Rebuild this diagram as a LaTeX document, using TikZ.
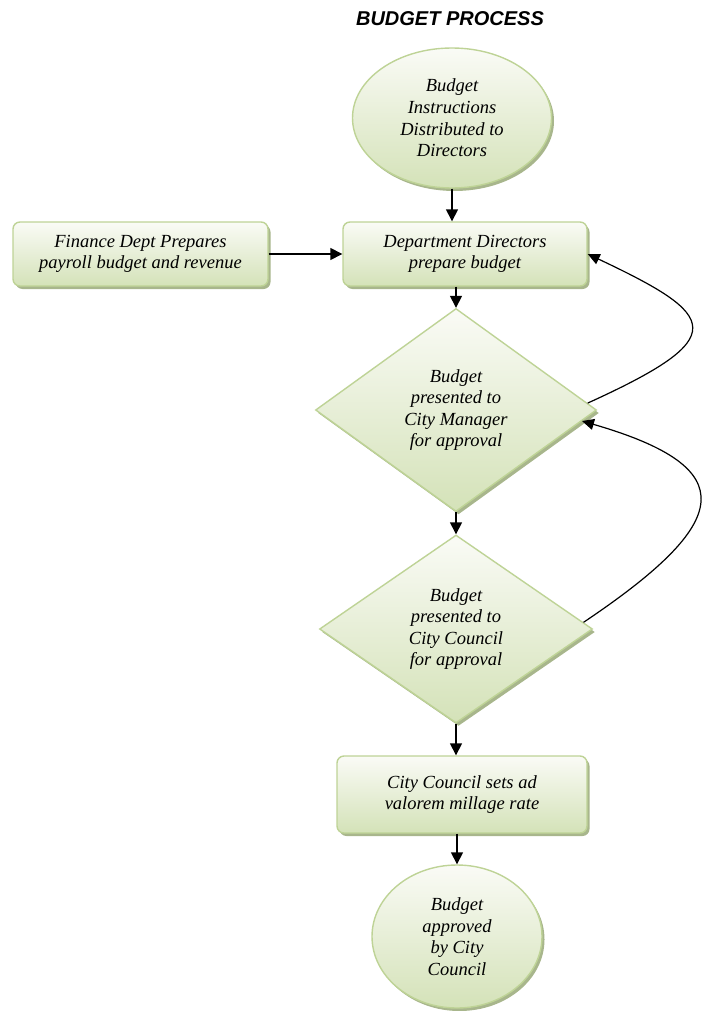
\documentclass[tikz,border=0pt]{standalone}
\usepackage{fontspec}
\setmainfont{Liberation Serif}
\setsansfont{Liberation Sans}
\usetikzlibrary{arrows.meta,shapes.geometric,shadows}

\definecolor{boxtop}{RGB}{250,251,246}
\definecolor{boxbottom}{RGB}{212,226,184}
\definecolor{boxline}{RGB}{190,211,150}
\definecolor{boxshadow}{RGB}{168,182,140}

\begin{document}
\begin{tikzpicture}[x=1pt,y=1pt,
step font/.style={font=\itshape\fontsize{18.5}{21.6}\selectfont},
green fill/.style={step font,draw=boxline,line width=1.4pt,top color=boxtop,bottom color=boxbottom,
  drop shadow={shadow xshift=2.5pt,shadow yshift=-3pt,fill=boxshadow,opacity=1},align=center,inner sep=0pt},
oval/.style={green fill,ellipse},
stepbox/.style={green fill,rectangle,rounded corners=7pt},
decision/.style={green fill,diamond},
arrow/.style={-{Triangle[length=12pt,width=12pt]},line width=1.5pt},
loop arrow/.style={-{Triangle[length=12pt,width=11pt]},line width=1.2pt} ]

\useasboundingbox (0,0) rectangle (703,-1011);

\node[font=\sffamily\bfseries\itshape\fontsize{20}{24}\selectfont,anchor=base] (title) at (450,-26) {BUDGET PROCESS};

\node[oval,minimum width=199,minimum height=140] (start) at (452,-118) {Budget\\Instructions\\Distributed to\\Directors};

\node[stepbox,minimum width=255,minimum height=64] (finance) at (140.5,-254) {Finance Dept Prepares\\payroll budget and revenue};

\node[stepbox,minimum width=244,minimum height=64] (dept) at (465,-254) {Department Directors\\prepare budget};

\node[decision,minimum width=281,minimum height=203] (manager) at (456,-410) {Budget\\presented to\\City Manager\\for approval};

\node[decision,minimum width=273,minimum height=188] (council) at (456,-629) {Budget\\presented to\\City Council\\for approval};

\node[stepbox,minimum width=250,minimum height=77] (millage) at (462,-794.5) {City Council sets ad\\valorem millage rate};

\node[oval,minimum width=170,minimum height=143] (approved) at (457,-936.5) {Budget\\approved\\by City\\Council};

\draw[arrow] (start.south) -- (start.south |- dept.north);

\draw[arrow] (finance.east) -- (dept.west);

\draw[arrow] (dept.south -| manager.north) -- (manager.north);

\draw[arrow] (manager.south) -- (council.north);

\draw[arrow] (council.south) -- (council.south |- millage.north);

\draw[arrow] (millage.south -| approved.north) -- (approved.north);

% return loops
\draw[loop arrow] (manager.3) .. controls (733,-337) and (719,-316) .. (dept.east);

\draw[loop arrow] (council.3) .. controls (733,-522) and (744,-468) .. (manager.355);

\end{tikzpicture}
\end{document}
